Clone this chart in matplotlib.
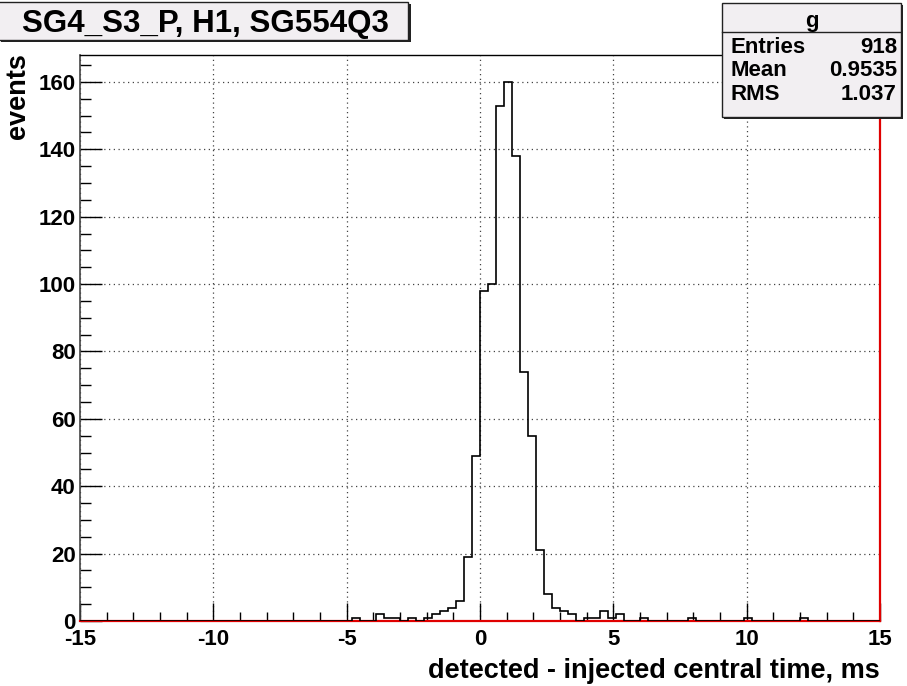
import numpy as np
import matplotlib
matplotlib.use("Agg")
import matplotlib.pyplot as plt
from matplotlib.patches import Rectangle
from matplotlib.ticker import MultipleLocator

plt.rcParams['font.family'] = ['Liberation Sans', 'DejaVu Sans']
plt.rcParams['font.weight'] = 'bold'
plt.rcParams['axes.unicode_minus'] = False

# histogram: 100 bins of 0.3 ms from -15 to 15 ms
x_min, x_max, n_bins = -15.0, 15.0, 100
counts = [
    0, 0, 0, 0, 0, 0, 0, 0, 0, 0,
    0, 0, 0, 0, 0, 0, 0, 0, 0, 0,
    0, 0, 0, 0, 0, 0, 0, 0, 0, 0,
    0, 0, 0, 0, 1, 0, 0, 2, 1, 1,
    0, 1, 0, 1, 2, 3, 4, 6, 19, 49,
    98, 100, 153, 160, 138, 74, 55, 21, 8, 4,
    3, 2, 0, 1, 1, 3, 1, 2, 0, 0,
    1, 0, 0, 0, 0, 0, 1, 0, 0, 0,
    0, 0, 0, 1, 0, 0, 0, 0, 0, 0,
    1, 0, 0, 0, 0, 0, 0, 0, 0, 0,
]
hist_name = "g"
stat_names = ["Entries", "Mean", "RMS"]
stat_values = ["918", "0.9535", "1.037"]
title = "SG4_S3_P, H1, SG554Q3"
xlabel = "detected - injected central time, ms"
ylabel = "events"

W, H = 907, 686
fig = plt.figure(figsize=(W / 100, H / 100), dpi=100)

def fx(px):
    return px / W

def fy(py):
    return 1 - py / H

ax = fig.add_axes([fx(80), fy(621), fx(880) - fx(80), fy(55) - fy(621)])

edges = np.linspace(x_min, x_max, n_bins + 1)
ax.stairs(counts, edges, color='black', lw=1.2, baseline=0, zorder=3)

ax.set_xlim(x_min, x_max)
ax.set_ylim(0, 1.05 * max(counts))

ax.xaxis.set_major_locator(MultipleLocator(5))
ax.xaxis.set_minor_locator(MultipleLocator(1))
ax.yaxis.set_major_locator(MultipleLocator(20))
ax.yaxis.set_minor_locator(MultipleLocator(5))

ax.tick_params(axis='x', which='major', direction='in', length=13, width=1,
               labelsize=16, pad=6, top=False)
ax.tick_params(axis='x', which='minor', direction='in', length=6.5, width=1, top=False)
ax.tick_params(axis='y', which='major', direction='in', length=16, width=1,
               labelsize=16, pad=3, right=False)
ax.tick_params(axis='y', which='minor', direction='in', length=8, width=1, right=False)
for lab in ax.get_xticklabels() + ax.get_yticklabels():
    lab.set_fontweight('bold')

ax.grid(True, which='major', color='#444444', linestyle=(0, (1, 2.8)), lw=0.9)
ax.set_axisbelow(True)

ax.spines['bottom'].set_color('#e00000')
ax.spines['bottom'].set_linewidth(1.6)
ax.spines['right'].set_color('#e00000')
ax.spines['right'].set_linewidth(1.6)
ax.spines['left'].set_color('#444444')
ax.spines['left'].set_linewidth(1.2)
ax.spines['top'].set_color('black')
ax.spines['top'].set_linewidth(1.0)

# axis titles
fig.text(fx(880), fy(678), xlabel, ha='right', va='baseline',
         fontsize=19.5, fontweight='bold')
fig.text(fx(18), fy(53), ylabel, ha='center', va='top', rotation=90,
         fontsize=19.5, fontweight='bold')

box_face = '#f2eff2'

# title box with shadow
fig.patches.append(Rectangle((fx(1), fy(42)), fx(411) - fx(1), fy(4) - fy(42),
                             transform=fig.transFigure, facecolor='#222222',
                             edgecolor='none', zorder=5))
fig.patches.append(Rectangle((fx(-2), fy(40)), fx(408) - fx(-2), fy(2) - fy(40),
                             transform=fig.transFigure, facecolor=box_face,
                             edgecolor='#222222', lw=1, zorder=6))
fig.text(fx(205), fy(32), title, ha='center', va='baseline',
         fontsize=22.5, fontweight='bold', zorder=7)

# stats box with shadow
fig.patches.append(Rectangle((fx(724), fy(119)), fx(903) - fx(724), fy(5) - fy(119),
                             transform=fig.transFigure, facecolor='#222222',
                             edgecolor='none', zorder=5))
fig.patches.append(Rectangle((fx(722), fy(117)), fx(901) - fx(722), fy(3) - fy(117),
                             transform=fig.transFigure, facecolor=box_face,
                             edgecolor='#222222', lw=1, zorder=6))
fig.lines.append(plt.Line2D([fx(722), fx(901)], [fy(32), fy(32)],
                            transform=fig.transFigure, color='#222222', lw=1, zorder=7))
fig.text(fx(811.5), fy(27), hist_name, ha='center', va='baseline',
         fontsize=16, fontweight='bold', zorder=7)
for i, (name, val) in enumerate(zip(stat_names, stat_values)):
    yb = 53 + i * 23.5
    fig.text(fx(731), fy(yb), name, ha='left', va='baseline',
             fontsize=16, fontweight='bold', zorder=7)
    fig.text(fx(897), fy(yb), val, ha='right', va='baseline',
             fontsize=16, fontweight='bold', zorder=7)

fig.savefig("out.png", dpi=100)
